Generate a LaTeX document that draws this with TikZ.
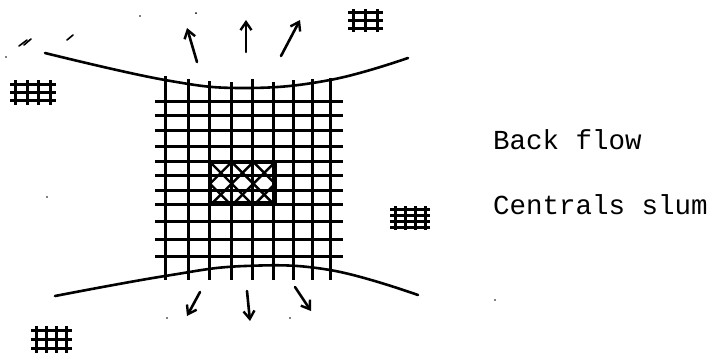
\documentclass[tikz,border=0pt]{standalone}
\usepackage{fontspec}
\setmonofont{Liberation Mono}
\usetikzlibrary{arrows.meta}
\tikzset{
  ink/.style={line width=2.6pt, line cap=round},
  gridline/.style={line width=3pt},
  flow/.style={line width=2.6pt, line cap=round, -{Straight Barb[length=8pt,width=11pt,line width=2.4pt]}},
  speck/.style={line width=1.6pt, line cap=round},
  label/.style={font=\ttfamily\fontsize{27.5}{30}\selectfont, anchor=west, inner sep=0pt},
  pics/hash/.style args={#1/#2/#3/#4}{code={
    \foreach \i in {1,...,#3} {
      \draw[line width=3pt] ({(\i-0.5)*#1/#3},0) -- ({(\i-0.5)*#1/#3},#2);
    }
    \foreach \j in {1,...,#4} {
      \draw[line width=3pt] (0,{(\j-0.5)*#2/#4}) -- (#1,{(\j-0.5)*#2/#4});
    }
  }}
}
\begin{document}
\begin{tikzpicture}[x=1pt,y=-1pt]
\useasboundingbox (0,0) rectangle (715,360);

% curves
\draw[ink] plot[smooth, tension=0.7] coordinates {(45,53) (165,80) (245,88) (330,80) (408,58)};
\draw[ink] plot[smooth, tension=0.7] coordinates {(55,296) (165,276) (245,266) (330,270) (418,295)};

% grid verticals
\foreach \x/\t in {165/76,188/79,209/81,231/82,252/79,273/82,293/80,312/79,330/78} {
  \draw[gridline] (\x,\t) -- (\x,280);
}
% grid horizontals
\foreach \y in {101,115,130,146,161,175,190,204,221,239,256} {
  \draw[gridline] (155,\y) -- (343,\y);
}

% cross-hatched block
\begin{scope}
  \clip (210,162) rectangle (275,203);
  \foreach \k in {-5,...,10} {
    \draw[line width=2.4pt] ({210+\k*21.7},162) -- ++(45,45);
    \draw[line width=2.4pt] ({210+\k*21.7},162) -- ++(-45,45);
  }
\end{scope}
\draw[line width=3.4pt] (210,162) rectangle (275,203);
\node[inner sep=0pt, minimum width=65pt, minimum height=41pt] (core) at (242.5,182.5) {};

% flow arrows (top)
\coordinate (ta1) at (197,62); \coordinate (tb1) at (187,28);
\coordinate (ta2) at (246,52); \coordinate (tb2) at (246,20);
\coordinate (ta3) at (281,56); \coordinate (tb3) at (300,20);
\draw[flow] (ta1) -- (tb1);
\draw[flow] (ta2) -- (tb2);
\draw[flow] (ta3) -- (tb3);
% flow arrows (bottom)
\coordinate (ba1) at (200,292); \coordinate (bb1) at (187,316);
\coordinate (ba2) at (247,291); \coordinate (bb2) at (250,321);
\coordinate (ba3) at (295,287); \coordinate (bb3) at (311,311);
\draw[flow] (ba1) -- (bb1);
\draw[flow] (ba2) -- (bb2);
\draw[flow] (ba3) -- (bb3);

% hash marks (small settlements)
\pic at (10,80) {hash={46/25/4/3}};
\pic at (348,9) {hash={35/23/3/3}};
\pic at (390,206) {hash={40/24/4/4}};
\pic at (31,326) {hash={41/27/4/3}};

% specks
\draw[speck] (19,46) -- (27,40);
\draw[speck] (24,45) -- (31,39);
\draw[speck] (67,40) -- (73,35);
\fill (6,57) circle (0.8pt);
\fill (140,16) circle (0.8pt);
\fill (196,13) circle (1pt);
\fill (47,197) circle (0.9pt);
\fill (167,318) circle (0.9pt);
\fill (290,318) circle (0.9pt);
\fill (495,300) circle (0.9pt);

% labels
\node[label] (back) at (493,140) {Back flow};
\node[label] (slum) at (493,205) {Centrals slum};
\end{tikzpicture}
\end{document}
